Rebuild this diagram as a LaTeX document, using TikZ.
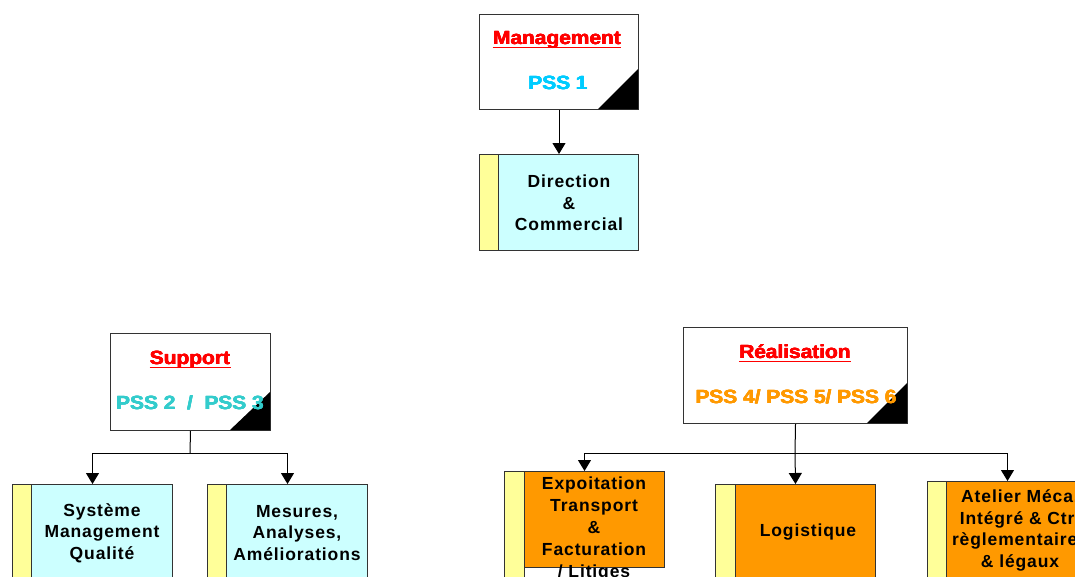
\documentclass[tikz,border=0pt]{standalone}
\usepackage{fontspec}
\usetikzlibrary{arrows.meta}
\setmainfont{Liberation Sans}
\newfontfamily\bodyfont{Liberation Sans Bold}[LetterSpace=5]
\newfontfamily\heavyfont{Liberation Sans Bold}[FakeStretch=1.1]
\definecolor{boxline}{HTML}{333333}
\definecolor{paleCyan}{HTML}{CCFFFF}
\definecolor{paleYellow}{HTML}{FFFF99}
\definecolor{procOrange}{HTML}{FF9900}
\definecolor{titleRed}{HTML}{FF0000}
\definecolor{pssBlue}{HTML}{00CCFF}
\definecolor{pssTeal}{HTML}{33CCCC}
% thicken a heading by overprinting a few shifted copies
\newcommand{\heavy}[1]{\leavevmode\rlap{#1}\rlap{\kern0.5pt#1}\rlap{\raisebox{0.45pt}{\kern0.25pt#1}}\rlap{\raisebox{-0.3pt}{\kern0.5pt#1}}#1\kern0.5pt}
\tikzset{
  headbox/.style={draw=boxline, line width=1pt, fill=white, anchor=north west, inner sep=0pt},
  procbox/.style={draw=boxline, line width=1pt, anchor=north west, minimum width=160pt, minimum height=96pt, inner sep=0pt},
  cyanbox/.style={procbox, fill=paleCyan},
  orangebox/.style={procbox, fill=procOrange},
  strip/.style={fill=paleYellow, draw=boxline, line width=1pt},
  corner/.style={fill=black},
  bodytext/.style={font=\bodyfont\fontsize{17.5}{21.5}\selectfont, align=center, text=black, inner sep=0pt},
  titletext/.style={font=\heavyfont\fontsize{19}{21}\selectfont, text=titleRed, inner sep=0pt, anchor=base},
  titlerule/.style={draw=titleRed, line width=1.8pt},
  psstext/.style={font=\heavyfont\fontsize{19}{21}\selectfont, inner sep=0pt, anchor=base},
  link/.style={line width=1pt, draw=black},
  arr/.style={link, -{Triangle[length=11pt,width=13pt]}}
}
\begin{document}
\begin{tikzpicture}[x=1pt,y=-1pt]
\useasboundingbox (0,0) rectangle (1075,576);
\clip (0,0) rectangle (1075,576);
\fill[white] (0,0) rectangle (1075,576);

% ---------- Management ----------
\node[headbox, minimum width=159pt, minimum height=95pt] (mgmt) at (479,14) {};
\fill[corner] (598,109) -- (638,109) -- (638,69) -- cycle;
\node[titletext] (mgmtT) at (557,44.5) {\heavy{Management}};
\draw[titlerule] ([yshift=-3pt]mgmtT.base west) -- ([yshift=-3pt]mgmtT.base east);
\node[psstext, text=pssBlue] (mgmtP) at (558,89.5) {\heavy{PSS 1}};

\node[cyanbox, minimum width=159pt] (dir) at (479,154) {};
\filldraw[strip] (479,154) rectangle (498,250);
\node[bodytext] (dirT) at (569,203) {Direction\\\&\\Commercial};
\draw[arr] (mgmt.south) -- (dir.north);

% ---------- Support ----------
\node[headbox, minimum width=160pt, minimum height=97pt] (sup) at (110,333) {};
\fill[corner] (230,430) -- (270,430) -- (270,392) -- cycle;
\node[titletext] (supT) at (190,364.5) {\heavy{Support}};
\draw[titlerule] ([yshift=-3pt]supT.base west) -- ([yshift=-3pt]supT.base east);
\node[psstext, text=pssTeal] (supP) at (190,409.5) {\heavy{PSS 2~~/~~PSS 3}};

\node[cyanbox] (sys) at (12,484) {};
\filldraw[strip] (12,484) rectangle (31,580);
\node[bodytext] (sysT) at (102,533) {Système\\Management\\Qualité};

\node[cyanbox] (mes) at (207,484) {};
\filldraw[strip] (207,484) rectangle (226,580);
\node[bodytext] (mesT) at (297,533) {Mesures,\\Analyses,\\Améliorations};

\coordinate (supJ) at (190,453);
\draw[link] (sup.south) -- (supJ);
\draw[arr] (supJ) -| (sys.north);
\draw[arr] (supJ) -| (mes.north);

% ---------- Réalisation ----------
\node[headbox, minimum width=224pt, minimum height=96pt] (real) at (683,327) {};
\fill[corner] (867,423) -- (907,423) -- (907,383) -- cycle;
\node[titletext] (realT) at (795,358.5) {\heavy{Réalisation}};
\draw[titlerule] ([yshift=-3pt]realT.base west) -- ([yshift=-3pt]realT.base east);
\node[psstext, text=procOrange] (realP) at (796,403.5) {\heavy{PSS 4/ PSS 5/ PSS 6}};

\node[orangebox] (expl) at (504,471) {};
\filldraw[strip] (504,471) rectangle (524,580);
\node[bodytext, font=\bodyfont\fontsize{17.5}{21.8}\selectfont, anchor=north] (explT) at (594,477) {Expoitation\\Transport\\\&\\Facturation\\/ Litiges};

\node[orangebox] (logi) at (715,484) {};
\filldraw[strip] (715,484) rectangle (735,580);
\node[bodytext] (logiT) at (808,532) {Logistique};

\node[orangebox] (atel) at (927,481) {};
\filldraw[strip] (927,481) rectangle (946,580);
\node[bodytext] (atelT) at (1020,530.5) {Atelier Méca.\\Intégré \& Ctrl\\règlementaires\\\& légaux};

\coordinate (realJ) at (795,453);
\draw[link] (real.south) -- (realJ);
\draw[arr] (realJ) -| (expl.north);
\draw[arr] (realJ) -- (logi.north);
\draw[arr] (realJ) -| (atel.north);
\end{tikzpicture}
\end{document}
